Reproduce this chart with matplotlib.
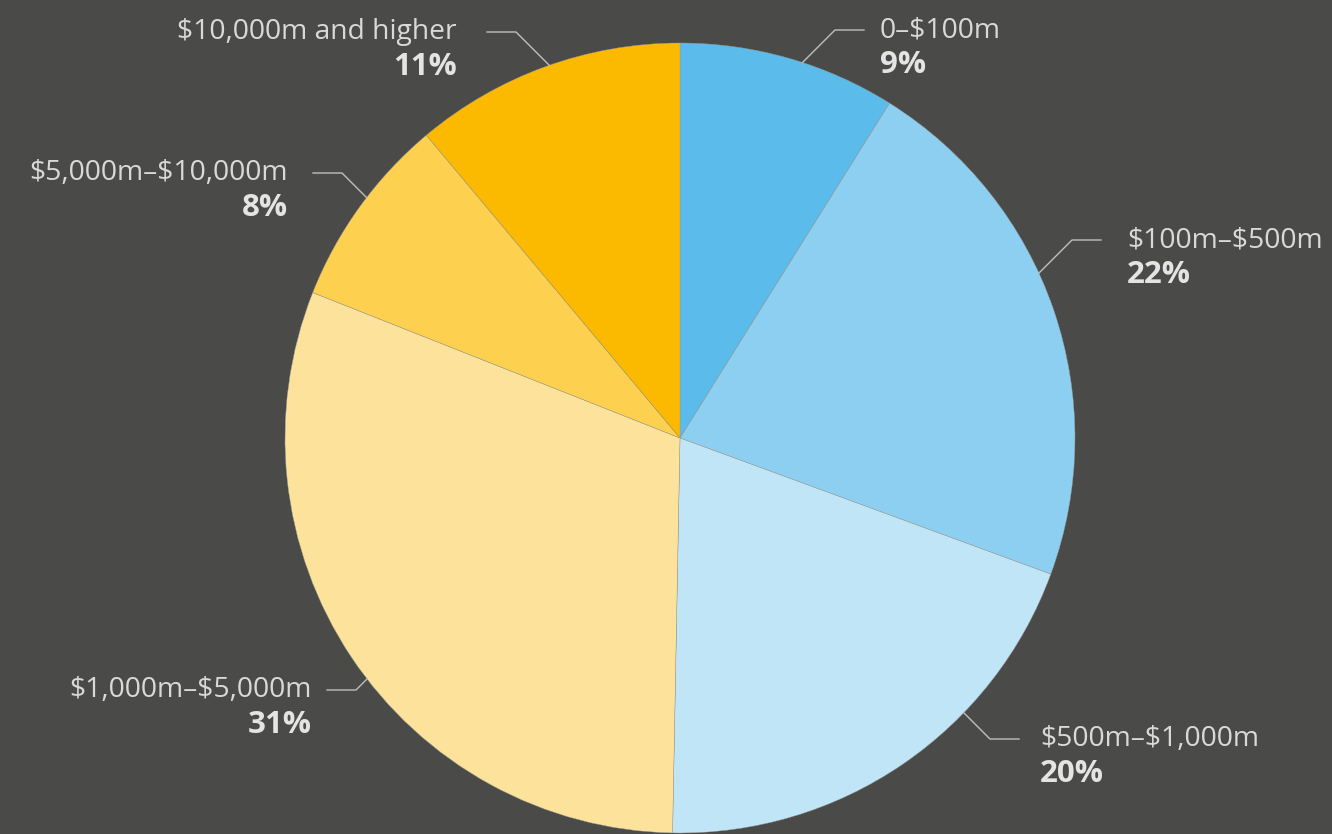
import numpy as np
import matplotlib
matplotlib.use('Agg')
import matplotlib.pyplot as plt

# shares (clockwise from 12 o'clock)
categories = ['0\u2013$100m', '$100m\u2013$500m', '$500m\u2013$1,000m',
              '$1,000m\u2013$5,000m', '$5,000m\u2013$10,000m', '$10,000m and higher']
shares = [8.9, 21.7, 19.7, 30.7, 7.9, 11.1]
pct_labels = ['9%', '22%', '20%', '31%', '8%', '11%']
colors = ['#5BBBEB', '#8DCFF1', '#C0E5F7', '#FCE29A', '#FDD04F', '#FBB900']

BG = '#4A4A48'
W, H = 1332, 834
CX, CY, R = 680, H - 438, 395

# label layout in pixels from top-left: leader elbow, text anchor x, side
elbows = [(835, 30), (1072, 240), (990, 739), (356, 690), (342, 173), (516, 32)]
text_x = [880, 1127, 1040, 312, 288, 457]
sides = [1, 1, 1, -1, -1, -1]

plt.rcParams['font.family'] = ['Open Sans', 'DejaVu Sans']
plt.rcParams['text.parse_math'] = False

fig = plt.figure(figsize=(W / 100, H / 100), dpi=100, facecolor=BG)
ax = fig.add_axes([0, 0, 1, 1])
ax.set_facecolor(BG)

ax.pie(shares, colors=colors, startangle=90, counterclock=False,
       center=(CX, CY), radius=R,
       wedgeprops=dict(edgecolor='#9a9a90', linewidth=0.3))
ax.set_xlim(0, W)
ax.set_ylim(0, H)
ax.set_aspect('equal')
ax.axis('off')


def leader_start(ex, ey, side):
    # 45 degree leg from the elbow back to the pie edge
    d = np.array([-side, -np.sign(ey - CY)]) / np.sqrt(2)
    p = np.array([ex - CX, ey - CY])
    b = p @ d
    c = p @ p - R * R
    t = -b - np.sqrt(max(b * b - c, 0))
    return ex + t * d[0], ey + t * d[1]


for cat, pct, (ex, ey), tx, side in zip(categories, pct_labels, elbows, text_x, sides):
    ey = H - ey
    sx, sy = leader_start(ex, ey, side)
    hx = ex + side * 29
    ax.plot([sx, ex, hx], [sy, ey, ey], color='#BFBFBF', lw=1.0)
    ha = 'left' if side > 0 else 'right'
    ax.text(tx, ey, cat, ha=ha, va='center', fontsize=20.3, color='#D9D9D9')
    ax.text(tx, ey - 35, pct, ha=ha, va='center', fontsize=22.5,
            fontweight='bold', color='#E4E4E4')

fig.savefig('out.png', dpi=100, facecolor=BG)
